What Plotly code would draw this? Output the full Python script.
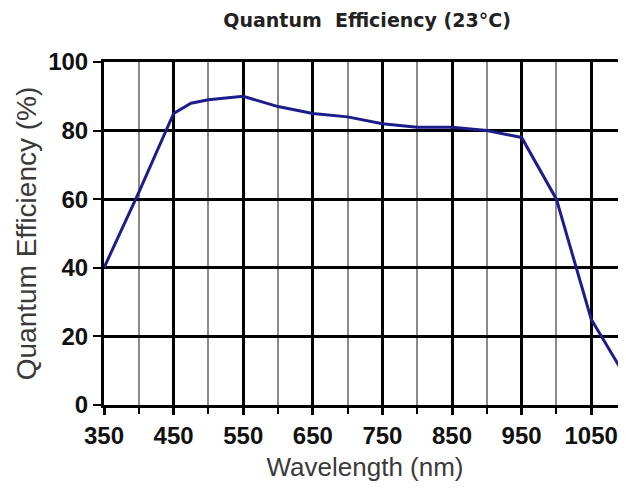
import plotly.graph_objects as go

wavelength = [350, 400, 450, 475, 500, 550, 600, 650, 700, 750, 800, 850, 900, 950, 1000, 1050, 1100]
qe = [40, 62, 85, 88, 89, 90, 87, 85, 84, 82, 81, 81, 80, 78, 60, 25, 8]
x_ticks = [350, 450, 550, 650, 750, 850, 950, 1050]
y_ticks = [0, 20, 40, 60, 80, 100]

fig = go.Figure()
fig.add_trace(go.Scatter(x=wavelength, y=qe, mode="lines",
                         line=dict(color="#1c1c8a", width=3), showlegend=False))

tickfont = dict(family="Liberation Sans", size=24, color="#111111", weight="bold")
titlefont = dict(family="Liberation Sans", size=26, color="#3a3a3a")

fig.update_layout(
    width=618, height=476,
    margin=dict(l=96, r=0, t=54, b=79),
    paper_bgcolor="white", plot_bgcolor="white",
    title=dict(text="Quantum  Efficiency (23°C)", x=0.581, xanchor="center",
               y=0.975, yanchor="middle",
               font=dict(family="DejaVu Sans", size=19, color="#222222", weight="bold")),
)
fig.update_xaxes(
    range=[350, 1100], tickvals=x_ticks, ticktext=[str(v) for v in x_ticks],
    showgrid=True, gridcolor="#000000", gridwidth=3,
    ticks="outside", ticklen=7, tickwidth=3, tickcolor="#000000",
    tickfont=tickfont, zeroline=False,
    showline=True, linecolor="#000000", linewidth=3, mirror=True,
    minor=dict(dtick=50, tick0=350, showgrid=True, gridcolor="#8a8a8a", gridwidth=1.5,
               ticks="outside", ticklen=6, tickwidth=2, tickcolor="#000000"),
    title=dict(text="Wavelength (nm)", font=titlefont, standoff=11),
)
fig.update_yaxes(
    range=[0, 100], tickvals=y_ticks,
    showgrid=True, gridcolor="#000000", gridwidth=3,
    ticks="outside", ticklen=8, tickwidth=2, tickcolor="#000000",
    tickfont=tickfont, zeroline=False,
    showline=True, linecolor="#000000", linewidth=3,
    title=dict(text="Quantum Efficiency (%)", font=dict(family="Liberation Sans", size=28, color="#3a3a3a"), standoff=4),
)

fig.write_html("out.html")
